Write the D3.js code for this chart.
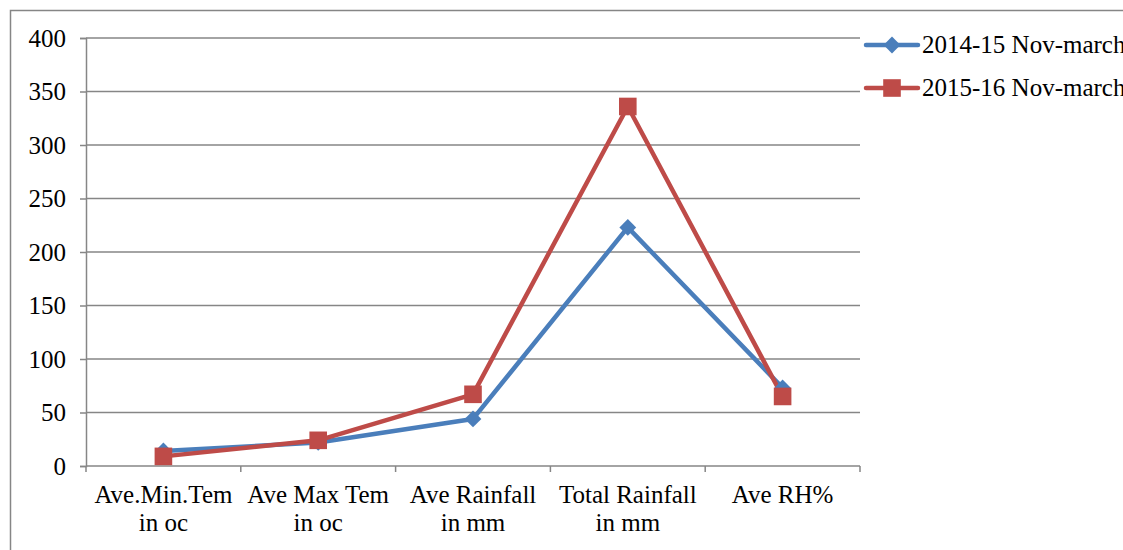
<!DOCTYPE html>
<html>
<head>
<meta charset="utf-8">
<script src="https://cdn.jsdelivr.net/npm/d3@7"></script>
<style>
  body { margin: 0; background: #fff; }
  svg text { font-family: "Liberation Serif", "Times New Roman", serif; fill: #000; }
</style>
</head>
<body>
<div id="chart"></div>
<script>
// data
const categories = [
  ["Ave.Min.Tem", "in oc"],
  ["Ave Max Tem", "in oc"],
  ["Ave Rainfall", "in mm"],
  ["Total Rainfall", "in mm"],
  ["Ave RH%"]
];
const seriesNames = ["2014-15 Nov-march", "2015-16 Nov-march"];
const values2014 = [14, 22, 44, 223, 73];
const values2015 = [9, 24, 67, 336, 65];
const yTicks = [0, 50, 100, 150, 200, 250, 300, 350, 400];

const width = 1123, height = 550;
const plot = { left: 86, right: 860, top: 38, bottom: 466 };
const colors = ["#4A7EBB", "#BE4B48"];
const gridColor = "#868686";
const fontSize = "25px";
const serif = "'Liberation Serif', 'Times New Roman', serif";

const svg = d3.select("#chart").append("svg")
  .attr("width", width)
  .attr("height", height)
  .attr("font-family", serif);

// outer chart border (runs off the right and bottom edge)
svg.append("rect")
  .attr("x", 10.5).attr("y", 10.5)
  .attr("width", width + 20).attr("height", height + 20)
  .attr("fill", "none")
  .attr("stroke", gridColor)
  .attr("stroke-width", 1.5);

const x = d3.scaleBand()
  .domain(d3.range(categories.length))
  .range([plot.left, plot.right]);

const y = d3.scaleLinear()
  .domain([0, 400])
  .range([plot.bottom, plot.top]);

// y axis + labels
const yAxis = svg.append("g")
  .attr("transform", `translate(${plot.left},0)`)
  .call(d3.axisLeft(y).tickValues(yTicks).tickSize(6).tickPadding(14));
yAxis.attr("font-family", serif).attr("font-size", null);
yAxis.select(".domain").attr("stroke", gridColor).attr("stroke-width", 1.5);
yAxis.selectAll(".tick line").attr("stroke", gridColor).attr("stroke-width", 1.5);
yAxis.selectAll(".tick text")
  .style("font-family", serif)
  .style("font-size", fontSize);

// horizontal gridlines
svg.append("g")
  .selectAll("line")
  .data(yTicks.filter(d => d > 0))
  .join("line")
  .attr("x1", plot.left).attr("x2", plot.right)
  .attr("y1", d => y(d)).attr("y2", d => y(d))
  .attr("stroke", gridColor)
  .attr("stroke-width", 1.5);

// x axis with tick marks at category boundaries
const bounds = d3.range(categories.length + 1).map(i => plot.left + i * x.step());
svg.append("line")
  .attr("x1", plot.left).attr("x2", plot.right)
  .attr("y1", y(0)).attr("y2", y(0))
  .attr("stroke", gridColor).attr("stroke-width", 1.5);
svg.append("g")
  .selectAll("line")
  .data(bounds)
  .join("line")
  .attr("x1", d => d).attr("x2", d => d)
  .attr("y1", y(0)).attr("y2", y(0) + 6)
  .attr("stroke", gridColor).attr("stroke-width", 1.5);

const xLabels = svg.append("g")
  .selectAll("text")
  .data(categories)
  .join("text")
  .attr("text-anchor", "middle")
  .style("font-family", serif)
  .style("font-size", fontSize)
  .attr("transform", (d, i) => `translate(${x(i) + x.bandwidth() / 2},0)`);
xLabels.selectAll("tspan")
  .data(d => d)
  .join("tspan")
  .attr("x", 0)
  .attr("y", (d, j) => 503 + j * 28)
  .text(d => d);

// lines
const line = d3.line()
  .x((d, i) => x(i) + x.bandwidth() / 2)
  .y(d => y(d));

const allSeries = [values2014, values2015];
svg.append("g")
  .selectAll("path")
  .data(allSeries)
  .join("path")
  .attr("d", line)
  .attr("fill", "none")
  .attr("stroke", (d, i) => colors[i])
  .attr("stroke-width", 4.5)
  .attr("stroke-linejoin", "round");

// markers
const diamond = d3.symbol().type(d3.symbolDiamond2).size(180);
const square = d3.symbol().type(d3.symbolSquare).size(310);

svg.append("g")
  .selectAll("path")
  .data(values2014)
  .join("path")
  .attr("d", diamond)
  .attr("transform", (d, i) => `translate(${x(i) + x.bandwidth() / 2},${y(d)})`)
  .attr("fill", colors[0]);

svg.append("g")
  .selectAll("path")
  .data(values2015)
  .join("path")
  .attr("d", square)
  .attr("transform", (d, i) => `translate(${x(i) + x.bandwidth() / 2},${y(d)})`)
  .attr("fill", colors[1]);

// legend
const legend = svg.append("g")
  .selectAll("g")
  .data(seriesNames)
  .join("g")
  .attr("transform", (d, i) => `translate(866,${45 + i * 43})`);
legend.append("line")
  .attr("x1", 0).attr("x2", 52)
  .attr("stroke", (d, i) => colors[i])
  .attr("stroke-width", 4.5)
  .attr("stroke-linecap", "round");
legend.append("path")
  .attr("d", (d, i) => i === 0 ? diamond() : square())
  .attr("transform", "translate(26,0)")
  .attr("fill", (d, i) => colors[i]);
legend.append("text")
  .attr("x", 56)
  .attr("y", 8)
  .style("font-family", serif)
  .style("font-size", fontSize)
  .text(d => d);
</script>
</body>
</html>
